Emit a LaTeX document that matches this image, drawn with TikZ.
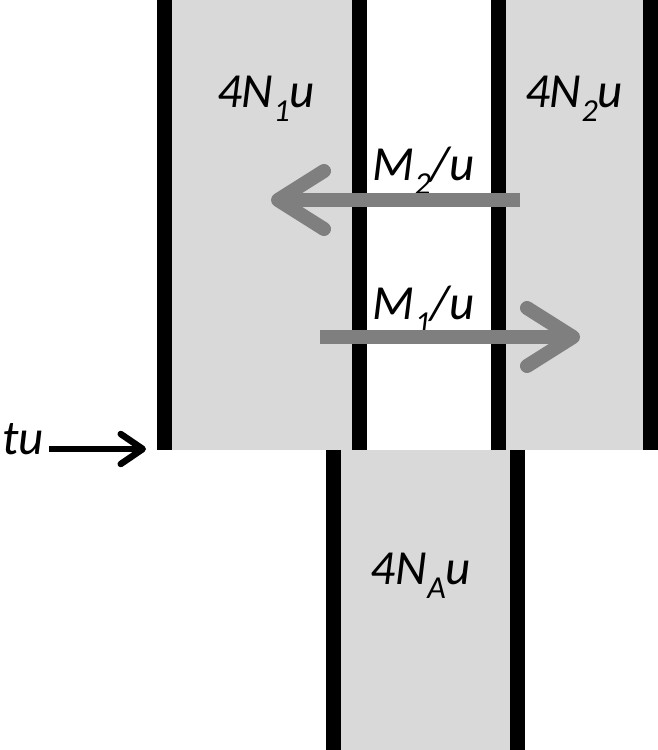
\documentclass[tikz,border=0pt]{standalone}
\usepackage{fontspec}
\setmainfont{Carlito}
\usetikzlibrary{arrows.meta}
\definecolor{popgrey}{HTML}{D9D9D9}
\definecolor{miggrey}{HTML}{7F7F7F}
\newcommand{\lowidx}[1]{\raisebox{-0.3em}{\fontsize{32}{34}\selectfont #1}}

\begin{document}
\begin{tikzpicture}
[
x=1pt, y=-1pt,
pop-a/.style={fill=popgrey, draw=none},
bar-a/.style={line width=15pt},
lab-a/.style={anchor=base, inner sep=0pt, font=\fontsize{49}{54}\selectfont\itshape},
mig-a/.style={draw=miggrey, line width=14pt, -{Straight Barb[length=46pt, width=58pt, round]}},
tim-a/.style={line width=6.5pt, -{Straight Barb[length=22pt, width=30pt, round]}}
]
\useasboundingbox (0,0) rectangle (658,750);
% populations
\fill [pop-a] (164.5,0)   rectangle (359.5,450);
\fill [pop-a] (498,0)     rectangle (650.5,450);
\fill [pop-a] (333.5,450) rectangle (517.5,750);
\draw [bar-a] (164.5,0) -- (164.5,450);
\draw [bar-a] (359.5,0) -- (359.5,450);
\draw [bar-a] (498,0)   -- (498,450);
\draw [bar-a] (650.5,0) -- (650.5,450);
\draw [bar-a] (333.5,450) -- (333.5,750);
\draw [bar-a] (517.5,450) -- (517.5,750);
% labels
\node (pop-1)  [lab-a] at (266,107) {4N\lowidx{1}u};
\node (pop-2)  [lab-a] at (574,107) {4N\lowidx{2}u};
\node (pop-a)  [lab-a] at (421,584) {4N\lowidx{A}u};
\node (mig-2)  [lab-a] at (424,180) {M\lowidx{2}/u};
\node (mig-1)  [lab-a] at (424,319) {M\lowidx{1}/u};
\node (time)   [lab-a, anchor=base east] at (44,454) {tu};
% migration
\coordinate (mig-2-s) at (520,200);
\coordinate (mig-2-e) at (271,200);
\coordinate (mig-1-s) at (320,337);
\coordinate (mig-1-e) at (580,337);
\draw [mig-a] (mig-2-s) -- (mig-2-e);
\draw [mig-a] (mig-1-s) -- (mig-1-e);
% split time
\coordinate (time-e) at (146,449);
\draw [tim-a] (time.east |- time-e) ++(5,0) coordinate (time-s) -- (time-e);
\end{tikzpicture}
\end{document}
